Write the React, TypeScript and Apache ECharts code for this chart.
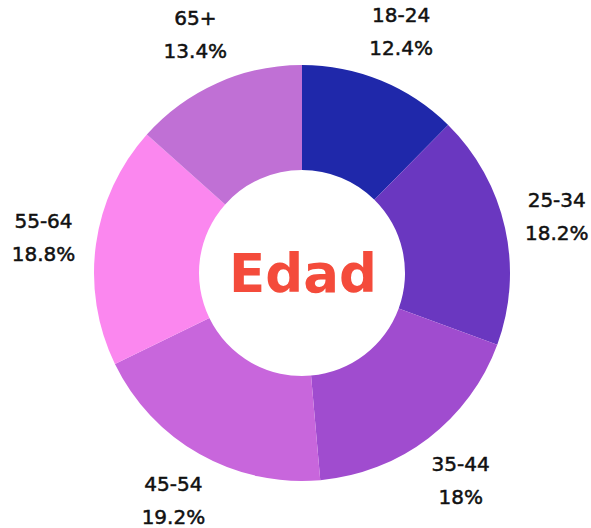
import React, { useEffect, useRef } from "react";
import * as echarts from "echarts";

const categories = ["18-24", "25-34", "35-44", "45-54", "55-64", "65+"];
const values = [12.4, 18.2, 18, 19.2, 18.8, 13.4];
const colors = ["#1f28aa", "#6a37c0", "#a04ccf", "#c866dc", "#fb87ef", "#c070d5"];
const centerTitle = "Edad";

export default function App() {
  const ref = useRef<HTMLDivElement>(null);
  useEffect(() => {
    if (!ref.current) return;
    const chart = echarts.init(ref.current, null, { renderer: "svg" });
    const data = categories.map((name, i) => ({ name, value: values[i] }));
    chart.setOption({
      animation: false,
      backgroundColor: "#ffffff",
      graphic: [
        {
          type: "text",
          x: 303,
          y: 273,
          style: {
            text: centerTitle,
            fill: "#f44b3b",
            font: "bold 53px 'DejaVu Sans', sans-serif",
            textAlign: "center",
            textVerticalAlign: "middle",
          },
        },
      ],
      series: [
        {
          type: "pie",
          center: [302, 273],
          radius: [103, 208],
          startAngle: 90,
          clockwise: true,
          silent: true,
          label: { show: false },
          labelLine: { show: false },
          itemStyle: {
            color: (p: any) => colors[p.dataIndex],
            borderWidth: 0,
          },
          data,
        },
        {
          type: "pie",
          center: [302, 273],
          radius: [240, 276],
          startAngle: 90,
          clockwise: true,
          silent: true,
          itemStyle: { color: "rgba(0,0,0,0)", borderWidth: 0 },
          label: {
            show: true,
            position: "inside",
            formatter: "{b}\n{c}%",
            color: "#111111",
            textBorderColor: "#111111",
            textBorderWidth: 0.5,
            fontSize: 20,
            fontWeight: "normal",
            fontFamily: "'DejaVu Sans', sans-serif",
            lineHeight: 33,
            align: "center",
          },
          labelLine: { show: false },
          data,
        },
      ],
    });
    return () => chart.dispose();
  }, []);
  return (
    <div
      ref={ref}
      style={{ position: "fixed", left: 0, top: 0, width: 591, height: 528 }}
    />
  );
}
